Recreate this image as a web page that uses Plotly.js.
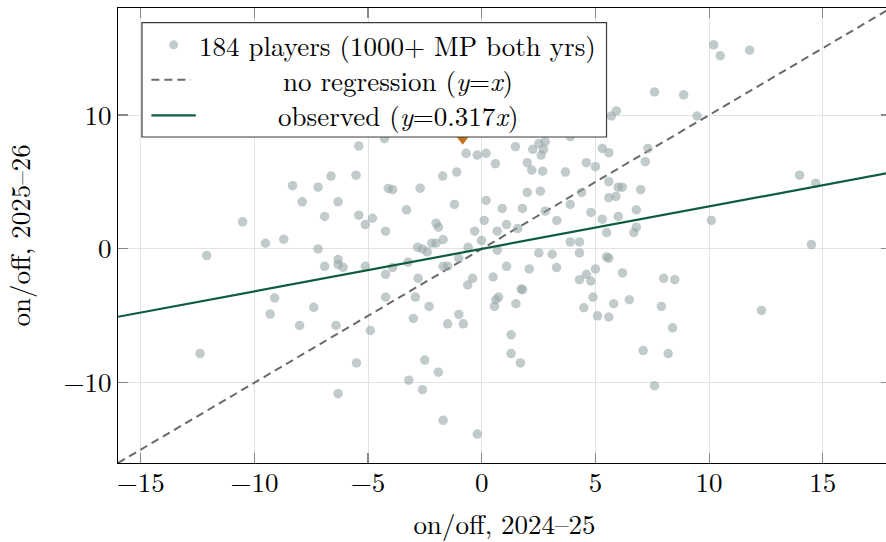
<!DOCTYPE html>
<html>
<head>
<meta charset="utf-8">
<script src="https://cdn.plot.ly/plotly-3.0.1.min.js"></script>
<style>
html,body{margin:0;padding:0;overflow:hidden;background:#fff;}
#chart{width:892px;height:542px;}
</style>
</head>
<body>
<div id="chart"></div>
<script>
// on/off 2024-25 (x) vs on/off 2025-26 (y), visible players
const onOff2425 = [
  10.20,10.49,11.78,7.60,8.88,9.47,5.70,5.92,5.30,5.59,
  7.31,7.19,4.60,5.00,3.89,2.79,2.51,2.24,2.72,2.61,
  1.48,-0.69,-0.20,0.19,0.60,2.00,2.20,2.68,3.68,-1.10,
  -1.72,-5.41,-4.28,-6.63,-5.53,-8.32,-7.20,-4.11,-3.92,-7.90,
  -6.32,-6.91,-5.41,-4.81,-5.12,-3.31,-4.23,-10.52,-9.51,-8.71,
  -7.20,-12.10,-6.32,-6.91,-6.32,-6.10,-5.12,-3.92,-4.23,-3.24,
  -9.11,-7.39,-9.31,-4.23,-2.71,-1.20,0.19,2.00,2.58,0.90,
  1.79,2.79,3.89,4.39,5.59,6.00,6.18,5.59,5.90,6.99,
  4.80,6.00,6.80,5.30,3.30,-2.01,-1.91,0.11,1.09,0.68,
  1.58,-0.31,5.49,6.80,6.69,-1.70,-2.20,-2.01,-0.01,-0.60,
  3.89,4.30,-2.82,-2.61,-2.40,0.68,2.51,3.10,4.30,-1.01,
  5.49,5.59,-1.70,-1.50,1.09,2.09,3.29,5.00,-2.80,-0.40,
  0.50,4.60,4.30,4.80,6.19,8.00,8.49,-0.62,-2.92,-2.32,
  1.73,1.80,0.74,0.62,0.56,1.50,-1.01,-3.01,4.89,4.49,
  5.80,6.49,7.90,5.09,5.59,13.98,14.69,10.10,14.50,12.30,
  -8.01,-6.41,-4.90,-12.39,-5.51,-6.32,-3.21,-1.50,-0.81,1.29,
  1.29,1.70,-2.51,-1.91,-2.61,-1.70,-0.20,8.39,7.10,8.20,7.60
];
const onOff2526 = [
  15.25,14.43,14.85,11.73,11.51,9.93,9.93,10.31,7.51,7.19,
  7.51,6.52,6.44,6.14,8.39,8.01,7.87,7.44,7.44,7.01,
  7.64,7.14,7.01,7.14,6.37,6.44,5.89,5.81,5.74,5.74,
  5.44,7.69,8.24,5.44,5.51,4.72,4.61,4.52,4.42,3.52,
  3.52,2.42,2.52,2.29,1.82,2.92,1.32,2.02,0.42,0.72,
  0.00,-0.50,-0.80,-1.30,-1.18,-1.38,-1.30,-1.40,-1.90,-1.00,
  -3.67,-4.37,-4.87,-3.60,4.54,3.32,3.62,4.22,4.31,3.02,
  3.02,2.82,3.32,4.22,5.02,4.61,4.61,3.82,3.92,4.42,
  2.72,2.42,2.92,2.22,2.12,1.92,1.62,2.12,1.82,1.32,
  1.52,1.32,1.22,1.62,1.22,0.70,0.42,0.42,0.62,0.12,
  0.52,0.52,0.12,0.00,-0.22,-0.10,-0.30,-0.40,-0.30,-0.70,
  -0.60,-0.70,-1.30,-1.30,-1.30,-1.50,-1.40,-1.50,-2.20,-2.20,
  -2.10,-1.90,-2.30,-2.40,-1.80,-2.20,-2.30,-2.70,-3.60,-4.30,
  -3.00,-3.05,-3.60,-3.80,-4.30,-4.10,-4.90,-5.20,-3.60,-4.40,
  -4.10,-3.80,-4.30,-5.00,-5.09,5.51,4.91,2.12,0.32,-4.60,
  -5.72,-5.72,-6.10,-7.82,-8.52,-10.82,-9.81,-5.60,-5.60,-6.42,
  -7.82,-8.52,-8.31,-9.21,-10.52,-12.81,-13.84,-5.90,-7.60,-7.82,-10.22
];
// highlighted player (mostly hidden behind legend)
const highlightX = [-0.84];
const highlightY = [8.2];
// reference lines
const lineX = [-16, 18];
const slope = 0.317;
const xTicks = [-15, -10, -5, 0, 5, 10, 15];
const yTicks = [-10, 0, 10];

const serif = '"Latin Modern Roman", "Liberation Serif", "Times New Roman", serif';

const traces = [
  {x: lineX, y: lineX.map(v => v), mode: 'lines', type: 'scatter',
   line: {color: '#6a6a6a', width: 2, dash: '8px,5px'}, hoverinfo: 'skip'},
  {x: onOff2425, y: onOff2526, mode: 'markers', type: 'scatter',
   marker: {size: 9.5, color: 'rgba(149,165,166,0.58)', line: {width: 0}}},
  {x: lineX, y: lineX.map(v => slope * v), mode: 'lines', type: 'scatter',
   line: {color: '#0d5c3d', width: 2.2}, hoverinfo: 'skip'},
  {x: highlightX, y: highlightY, mode: 'markers', type: 'scatter',
   marker: {symbol: 'triangle-down', size: 11, color: '#c4731c'}}
];

// legend box geometry (paper coords)
const lgL = 0.031, lgR = 0.632, lgT = 0.968, lgB = 0.7165;
const rowY = [0.919, 0.8424, 0.764];
const txtX = 0.362;

const shapes = [
  {type: 'rect', xref: 'paper', yref: 'paper', x0: lgL, x1: lgR, y0: lgB, y1: lgT,
   fillcolor: '#ffffff', line: {color: '#3a3a3a', width: 1.2}, layer: 'above'},
  {type: 'circle', xref: 'paper', yref: 'paper', xsizemode: 'pixel', ysizemode: 'pixel',
   xanchor: 0.072, yanchor: rowY[0], x0: -4.5, x1: 4.5, y0: -4.5, y1: 4.5,
   fillcolor: 'rgba(149,165,166,0.58)', line: {width: 0}, layer: 'above'},
  {type: 'line', xref: 'paper', yref: 'paper', x0: 0.0432, x1: 0.0941, y0: rowY[1], y1: rowY[1],
   line: {color: '#6a6a6a', width: 2, dash: '8px,5px'}, layer: 'above'},
  {type: 'line', xref: 'paper', yref: 'paper', x0: 0.0432, x1: 0.1006, y0: rowY[2], y1: rowY[2],
   line: {color: '#0d5c3d', width: 2.2}, layer: 'above'}
];

const legendTexts = [
  '184 players (1000+ MP both yrs)',
  'no regression (<i>y</i>=<i>x</i>)',
  'observed (<i>y</i>=0.317<i>x</i>)'
];
const annotations = legendTexts.map((t, i) => ({
  text: t, xref: 'paper', yref: 'paper', x: txtX, y: rowY[i],
  xanchor: 'center', yanchor: 'middle', showarrow: false,
  font: {family: serif, size: 27, color: '#000'}
}));

const axisCommon = {
  showgrid: true, gridcolor: '#e3e3e3', gridwidth: 1,
  zeroline: false, showline: true, linecolor: '#000', linewidth: 1.2,
  mirror: 'ticks', ticks: 'inside', ticklen: 10, tickwidth: 1.2, tickcolor: '#888',
  tickfont: {family: serif, size: 27, color: '#000'}
};

const layout = {
  width: 892, height: 542,
  margin: {l: 118, r: 1, t: 8, b: 79},
  paper_bgcolor: '#fff', plot_bgcolor: '#fff',
  showlegend: false,
  xaxis: Object.assign({}, axisCommon, {
    range: [-16, 18], tickmode: 'array', tickvals: xTicks, ticklabelstandoff: -5,
    title: {text: 'on/off, 2024–25', font: {family: serif, size: 27, color: '#000'}, standoff: 18}
  }),
  yaxis: Object.assign({}, axisCommon, {
    range: [-16, 18], tickmode: 'array', tickvals: yTicks,
    title: {text: 'on/off, 2025–26', font: {family: serif, size: 27, color: '#000'}, standoff: 30}
  }),
  shapes: shapes,
  annotations: annotations
};

Plotly.newPlot('chart', traces, layout, {displayModeBar: false, staticPlot: true});
</script>
</body>
</html>
